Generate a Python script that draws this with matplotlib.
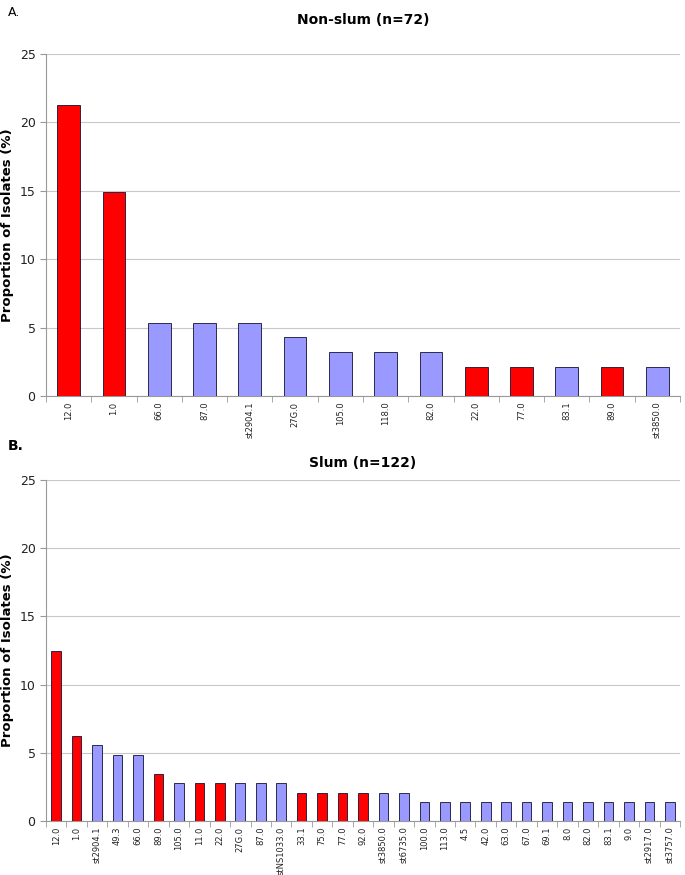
import matplotlib.pyplot as plt
import numpy as np

# Panel A: non-slum
nonslum_types = ['12.0', '1.0', '66.0', '87.0', 'st2904.1', '27G.0', '105.0',
                 '118.0', '82.0', '22.0', '77.0', '83.1', '89.0', 'st3850.0']
nonslum_pct = [21.3, 14.9, 5.3, 5.3, 5.3, 4.3, 3.2, 3.2, 3.2, 2.1, 2.1, 2.1, 2.1, 2.1]
nonslum_red = ['12.0', '1.0', '22.0', '77.0', '89.0']

# Panel B: slum
slum_types = ['12.0', '1.0', 'st2904.1', '49.3', '66.0', '89.0', '105.0', '11.0',
              '22.0', '27G.0', '87.0', 'stNS1033.0', '33.1', '75.0', '77.0', '92.0',
              'st3850.0', 'st6735.0', '100.0', '113.0', '4.5', '42.0', '63.0', '67.0',
              '69.1', '8.0', '82.0', '83.1', '9.0', 'st2917.0', 'st3757.0']
slum_pct = [12.5, 6.25, 5.56, 4.86, 4.86, 3.47, 2.78, 2.78, 2.78, 2.78, 2.78, 2.78,
            2.08, 2.08, 2.08, 2.08, 2.08, 2.08, 1.39, 1.39, 1.39, 1.39, 1.39, 1.39,
            1.39, 1.39, 1.39, 1.39, 1.39, 1.39, 1.39]
slum_red = ['12.0', '1.0', '89.0', '11.0', '22.0', '33.1', '75.0', '77.0', '92.0']

RED = '#ff0000'
BLUE = '#9999ff'

fig = plt.figure(figsize=(6.85, 8.75), dpi=100)
W, H = 685, 875


def draw_panel(ax, types, pct, reds, bar_w):
    x = np.arange(len(types))
    colors = [RED if t in reds else BLUE for t in types]
    ax.bar(x, pct, width=bar_w, color=colors, edgecolor='#111133', linewidth=0.6, zorder=3)
    ax.set_xlim(-0.5, len(types) - 0.5)
    ax.set_ylim(0, 25)
    ax.set_yticks([0, 5, 10, 15, 20, 25])
    ax.yaxis.grid(True, color='#c8c8c8', linewidth=0.8, zorder=0)
    ax.set_xticks(x)
    ax.set_xticklabels(types, rotation=90, fontsize=6, color='#222222')
    ax.tick_params(axis='x', length=0, pad=4)
    ax.set_xticks(np.arange(len(types) + 1) - 0.5, minor=True)
    ax.tick_params(axis='x', which='minor', length=4, color='#999999')
    ax.tick_params(axis='y', labelsize=9, length=4, color='#999999', labelcolor='#222222')
    for s in ['top', 'right']:
        ax.spines[s].set_visible(False)
    for s in ['left', 'bottom']:
        ax.spines[s].set_color('#999999')
    ax.set_ylabel('Proportion of Isolates (%)', fontsize=9.5, fontweight='bold')
    ax.yaxis.set_label_coords(-32 / 634, 0.5)


ax1 = fig.add_axes([46 / W, 1 - 396 / H, 634 / W, 342 / H])
draw_panel(ax1, nonslum_types, nonslum_pct, nonslum_red, 0.5)
ax2 = fig.add_axes([46 / W, 1 - 821 / H, 634 / W, 341 / H])
draw_panel(ax2, slum_types, slum_pct, slum_red, 0.47)

fig.text(363 / W, 1 - 20 / H, 'Non-slum (n=72)', ha='center', va='center',
         fontsize=10, fontweight='bold')
fig.text(363 / W, 1 - 463 / H, 'Slum (n=122)', ha='center', va='center',
         fontsize=10, fontweight='bold')
fig.text(8 / W, 1 - 12 / H, 'A.', ha='left', va='center', fontsize=9)
fig.text(8 / W, 1 - 446 / H, 'B.', ha='left', va='center', fontsize=10, fontweight='bold')

fig.savefig('out.png', dpi=100)
